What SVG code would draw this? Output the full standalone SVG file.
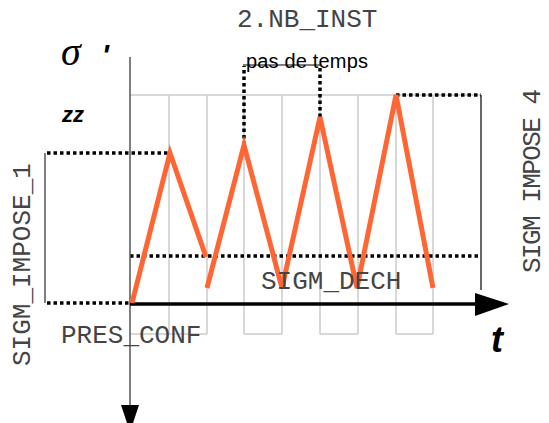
<svg xmlns="http://www.w3.org/2000/svg" width="549" height="423" viewBox="0 0 549 423">
<style>
.grid{stroke:#cccccc;stroke-width:1.5;fill:none}
.dot{stroke:#000;stroke-width:3.5;stroke-dasharray:3.5 3;fill:none}
.thin{stroke:#000;stroke-width:1.2;fill:none}
.axis{stroke:#555;stroke-width:1.5;fill:none}
.curve{stroke:#ff6633;stroke-width:5;fill:none;stroke-linejoin:miter}
.mono{font-family:"Liberation Mono","DejaVu Sans Mono",monospace;font-size:26px;fill:#444}
.sans{font-family:"Liberation Sans",Arial,sans-serif;fill:#000}
</style>
<rect width="549" height="423" fill="#fff"/>
<g id="grid">
<path class="grid" d="M130 95H481M169 95V334M207 95V334M244 95V334M282 95V334M320 95V334M358 95V334M396 95V334M433 95V334M130 334H207M244 334H282M320 334H358M396 334H433"/>
</g>
<g id="connectors">
<path class="dot" d="M47 153H170"/>
<path class="dot" d="M47 303H130"/>
<path class="dot" d="M130 256H481"/>
<path class="dot" d="M396 95H481"/>
<path class="dot" d="M244 145V66"/>
<path class="dot" d="M320 117V66"/>
<path class="thin" d="M243 65H320"/>
<path class="axis" d="M45 153V303"/>
<path class="thin" d="M481 95V290"/>
<path class="axis" d="M130 57V408"/>
<polygon points="121,405 139,405 130,432" fill="#000"/>
<path d="M130 304H477" stroke="#000" stroke-width="3.5" fill="none"/>
<polygon points="475,293 509,304 475,316" fill="#000"/>
</g>
<g id="curve">
<polyline class="curve" points="132,303 170,153 206,257"/>
<polyline class="curve" points="207,288 244,145 282,288 320,117 357,288 396,95 433,288"/>
</g>
<g id="labels">
<text x="61" y="65" font-family="Liberation Serif,serif" font-style="italic" font-size="40">σ<tspan dx="21" font-family="Liberation Sans,sans-serif" font-weight="bold" font-size="30">'</tspan></text>
<text class="mono" x="237" y="27">2.NB_INST</text>
<text class="sans" x="246" y="68" font-size="20" textLength="122">pas de temps</text>
<text class="sans" x="62" y="122" font-size="22" font-weight="bold" font-style="italic">zz</text>
<text class="mono" transform="translate(30,366) rotate(-90)">SIGM_IMPOSE_1</text>
<text class="mono" transform="translate(540,273) rotate(-90)" font-size="24" textLength="184">SIGM IMPOSE 4</text>
<text class="mono" x="61" y="343">PRES_CONF</text>
<text class="mono" x="261" y="289">SIGM_DECH</text>
<text class="sans" x="491" y="352" font-size="36" font-weight="bold" font-style="italic">t</text>
</g>
</svg>
